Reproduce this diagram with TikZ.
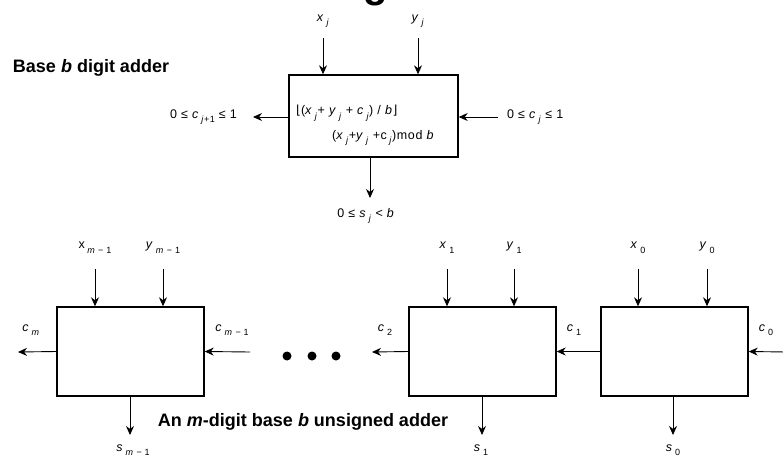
\documentclass[tikz,border=0pt]{standalone}
\usepackage{fontspec}
\setmainfont{Liberation Sans}
\newfontfamily\symfnt{DejaVu Sans}
\usetikzlibrary{arrows.meta}
\newcommand{\idx}[1]{\hspace{0.2em}\raisebox{-0.7ex}{\fontsize{9}{10}\selectfont #1}}
\tikzset{
  digitbox/.style={rectangle, draw=black, line width=1.4pt, fill=white,
                   minimum width=147pt, minimum height=89pt, inner sep=0pt},
  arr/.style={-{Stealth[length=9pt, width=8pt]}, line width=0.9pt},
  lbl/.style={inner sep=0pt, font=\fontsize{12.5}{14}\selectfont\addfontfeature{LetterSpace=5}},
  ttl/.style={inner sep=0pt, font=\fontsize{18}{21}\selectfont\bfseries},
}
\begin{document}
\begin{tikzpicture}[x=1pt, y=-1pt]
  \useasboundingbox (0,0) rectangle (783,457);
  % clipped title letter
  \begin{scope}
    \clip (340,0) rectangle (420,6);
    \node[inner sep=0pt, font=\fontsize{40}{40}\selectfont\bfseries, anchor=south] (ttlg) at (376,6) {g};
  \end{scope}

  % single digit adder
  \node[ttl] (basettl) at (91,68) {Base \textit{b} digit adder};
  \node[digitbox, minimum width=169pt, minimum height=82pt] (dig) at (373.5,116) {};
  \node[lbl, anchor=west] (quot) at (296,113)
    {{\symfnt ⌊}(\textit{x}\idx{\textit{j}}+ \textit{y}\idx{\textit{j}} + \textit{c}\idx{\textit{j}}) / \textit{b}{\symfnt ⌋}};
  \node[lbl, anchor=west] (rem) at (332,138)
    {(\textit{x}\idx{\textit{j}}+\textit{y}\idx{\textit{j}} +c\idx{\textit{j}})mod \textit{b}};

  \node[lbl] (xj) at (323,21) {\textit{x}\idx{\textit{j}}};
  \node[lbl] (yj) at (418,21) {\textit{y}\idx{\textit{j}}};
  \coordinate (xjin) at (323,38);
  \coordinate (yjin) at (418,38);
  \draw[arr] (xjin) -- (xjin |- dig.north);
  \draw[arr] (yjin) -- (yjin |- dig.north);

  \node[lbl, anchor=east] (cjout) at (237,117) {0 ≤ \textit{c}\idx{\textit{j}+1} ≤ 1};
  \node[lbl, anchor=west] (cjin) at (507,117) {0 ≤ \textit{c}\idx{\textit{j}} ≤ 1};
  \coordinate (cjoutend) at (253,117);
  \coordinate (cjinend) at (498,117);
  \draw[arr] (dig.west |- cjoutend) -- (cjoutend);
  \draw[arr] (cjinend) -- (dig.east |- cjinend);

  \coordinate (sjend) at (370,198);
  \draw[arr] (sjend |- dig.south) -- (sjend);
  \node[lbl] (sj) at (366,216) {0 ≤ \textit{s}\idx{\textit{j}} < \textit{b}};

  % m-digit adder
  \node[digitbox] (addm) at (130.5,351.5) {};
  \node[digitbox] (addone) at (482.5,351.5) {};
  \node[digitbox] (addzero) at (674.5,351.5) {};

  \node[lbl] (xm) at (95,248) {x\idx{\textit{m} − 1}};
  \node[lbl] (ym) at (163,248) {\textit{y}\idx{\textit{m} − 1}};
  \node[lbl] (xone) at (447,248) {\textit{x}\idx{1}};
  \node[lbl] (yone) at (514,248) {\textit{y}\idx{1}};
  \node[lbl] (xzero) at (638,248) {\textit{x}\idx{0}};
  \node[lbl] (yzero) at (707,248) {\textit{y}\idx{0}};
  \coordinate (xmin) at (95,269);
  \coordinate (ymin) at (163,269);
  \coordinate (xonein) at (447,269);
  \coordinate (yonein) at (514,269);
  \coordinate (xzeroin) at (638,269);
  \coordinate (yzeroin) at (707,269);
  \draw[arr] (xmin) -- (xmin |- addm.north);
  \draw[arr] (ymin) -- (ymin |- addm.north);
  \draw[arr] (xonein) -- (xonein |- addone.north);
  \draw[arr] (yonein) -- (yonein |- addone.north);
  \draw[arr] (xzeroin) -- (xzeroin |- addzero.north);
  \draw[arr] (yzeroin) -- (yzeroin |- addzero.north);

  \node[lbl] (cm) at (31,330) {\textit{c}\idx{\textit{m}}};
  \node[lbl] (cmm) at (232,330) {\textit{c}\idx{\textit{m} − 1}};
  \node[lbl] (ctwo) at (385,330) {\textit{c}\idx{2}};
  \node[lbl] (cone) at (574,330) {\textit{c}\idx{1}};
  \node[lbl] (czero) at (766,330) {\textit{c}\idx{0}};
  \coordinate (cmend) at (18,352);
  \coordinate (cmmin) at (250,352);
  \coordinate (ctwoend) at (372,352);
  \coordinate (czeroin) at (786,352);
  \draw[arr] (addm.west) -- (cmend);
  \draw[arr] (cmmin) -- (addm.east);
  \draw[arr] (addone.west) -- (ctwoend);
  \draw[arr] (addzero.west) -- (addone.east);
  \draw[arr] (czeroin) -- (addzero.east);

  % dots
  \fill (287,356) circle (4.5);
  \fill (312,356) circle (4.5);
  \fill (336,356) circle (4.5);

  \coordinate (smend) at (130,435);
  \coordinate (soneend) at (482,435);
  \coordinate (szeroend) at (673,435);
  \draw[arr] (smend |- addm.south) -- (smend);
  \draw[arr] (soneend |- addone.south) -- (soneend);
  \draw[arr] (szeroend |- addzero.south) -- (szeroend);
  \node[lbl] (sm) at (133,450) {\textit{s}\idx{\textit{m} − 1}};
  \node[lbl] (sone) at (481,450) {\textit{s}\idx{1}};
  \node[lbl] (szero) at (673,450) {\textit{s}\idx{0}};

  \node[ttl] (mttl) at (303,422) {An \textit{m}-digit base \textit{b} unsigned adder};
\end{tikzpicture}
\end{document}
